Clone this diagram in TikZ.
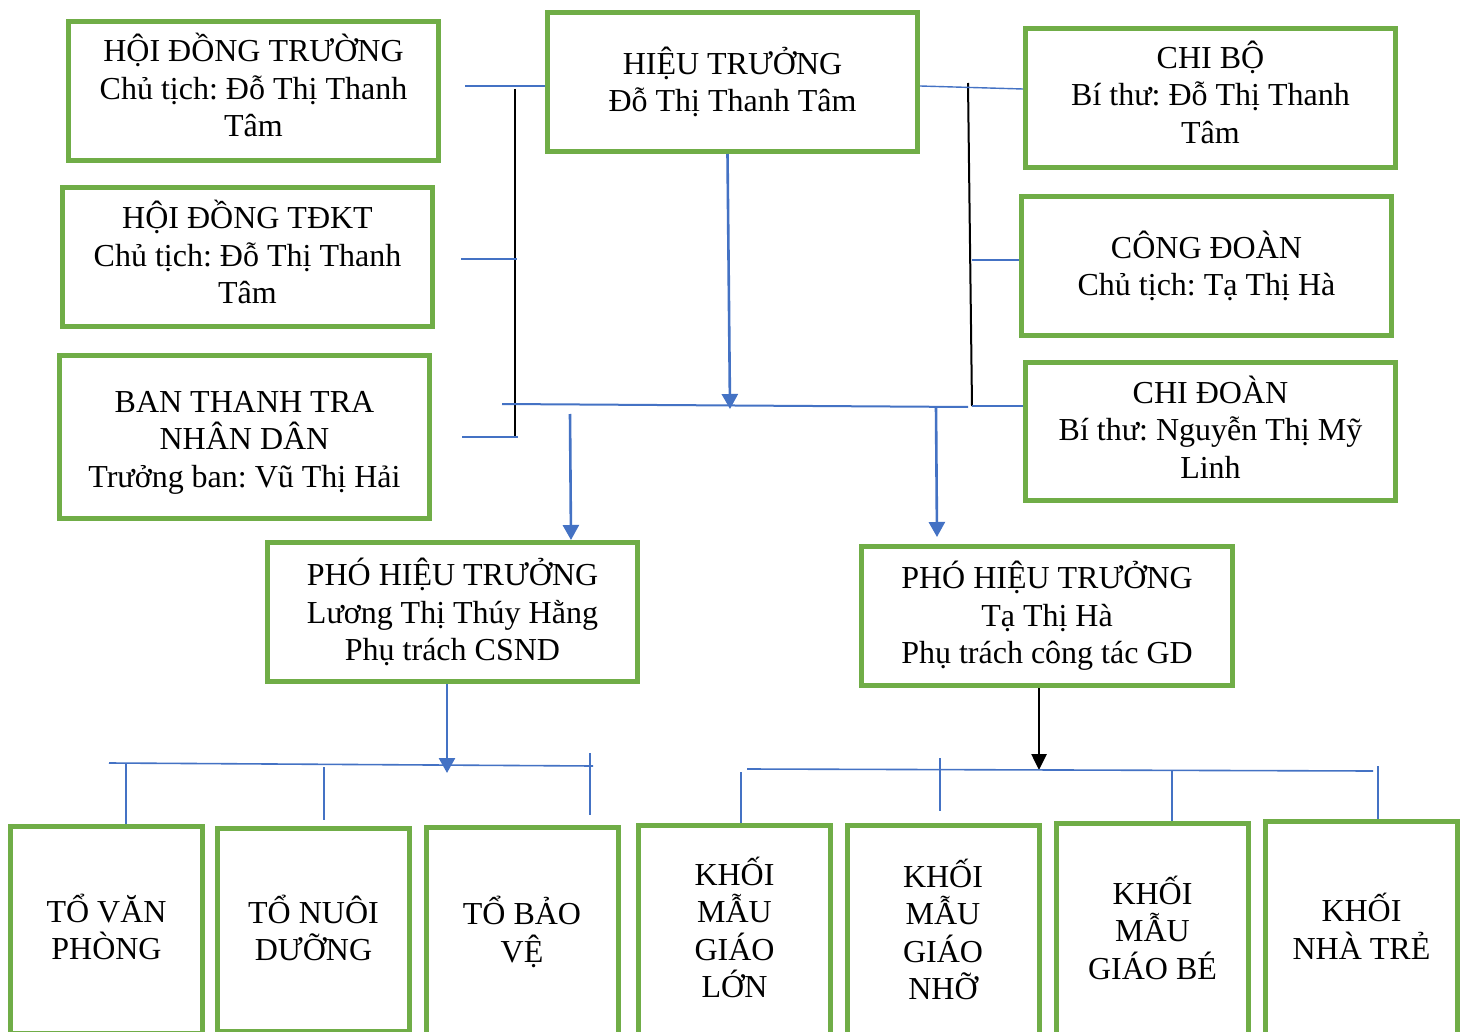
\documentclass[tikz,border=0pt]{standalone}
\usepackage{fontspec}
\setmainfont{Liberation Serif}
\usetikzlibrary{arrows.meta,calc}
\definecolor{boxgreen}{HTML}{70AD47}
\definecolor{linkblue}{HTML}{4472C4}
\frenchspacing
\newcommand{\lowerpad}[1]{\rule[-#1]{0pt}{0pt}}
\newcommand{\upperpad}[1]{\rule{0pt}{#1}}
\tikzset{
  orgbox/.style={draw=boxgreen, line width=5pt, inner sep=0pt, align=center,
    minimum width=370pt, minimum height=139pt,
    font=\fontsize{32}{37.5}\selectfont\frenchspacing},
  unitbox/.style={orgbox, minimum width=192pt, minimum height=207pt},
  thin/.style={draw=linkblue, line width=1.4pt},
  bus/.style={draw=linkblue, line width=2pt},
  blk/.style={draw=black, line width=2pt},
  barrow/.style={draw=linkblue, line width=2.6pt, -{Triangle[width=16pt,length=15pt]}},
  karrow/.style={draw=black, line width=2.6pt, -{Triangle[width=15pt,length=16pt]}}
}
\begin{document}
\begin{tikzpicture}[x=1pt,y=-1pt]
\useasboundingbox (0,0) rectangle (1467,1032);
\clip (0,0) rectangle (1467,1032);
\fill[white] (0,0) rectangle (1467,1032);

% top boxes
\node[orgbox] (HDT) at (253.5,91) {HỘI ĐỒNG TRƯỜNG\\Chủ tịch: Đỗ Thị Thanh\\Tâm\lowerpad{12pt}};
\node[orgbox] (HT) at (732.5,82) {HIỆU TRƯỞNG\\Đỗ Thị Thanh Tâm};
\node[orgbox] (CB) at (1210.5,98) {CHI BỘ\\Bí thư: Đỗ Thị Thanh\\Tâm\lowerpad{12pt}};
\node[orgbox] (TDKT) at (247.5,257) {HỘI ĐỒNG TĐKT\\Chủ tịch: Đỗ Thị Thanh\\Tâm\lowerpad{10pt}};
\node[orgbox] (CD) at (1206.5,266) {CÔNG ĐOÀN\\Chủ tịch: Tạ Thị Hà};
\node[orgbox, minimum height=163pt] (BTT) at (244.5,437) {\upperpad{32pt}BAN THANH TRA\\NHÂN DÂN\\Trưởng ban: Vũ Thị Hải};
\node[orgbox, minimum height=138pt] (CDo) at (1210.5,431.5) {CHI ĐOÀN\\Bí thư: Nguyễn Thị Mỹ\\Linh\lowerpad{9pt}};
\node[orgbox] (P1) at (452.5,612) {PHÓ HIỆU TRƯỞNG\\Lương Thị Thúy Hằng\\Phụ trách CSND};
\node[orgbox, minimum width=371pt] (P2) at (1047,616) {PHÓ HIỆU TRƯỞNG\\Tạ Thị Hà\\Phụ trách công tác GD};

% bottom boxes
\node[unitbox] (B1) at (106.5,930) {TỔ VĂN\\PHÒNG\lowerpad{6pt}};
\node[unitbox, minimum height=203pt] (B2) at (313.5,930) {TỔ NUÔI\\DƯỠNG\lowerpad{4pt}};
\node[unitbox, minimum height=209pt] (B3) at (522,932) {TỔ BẢO\\VỆ\lowerpad{4pt}};
\node[unitbox, minimum height=209pt] (B4) at (734.5,930) {KHỐI\\MẪU\\GIÁO\\LỚN\lowerpad{5pt}};
\node[unitbox, minimum height=213pt] (B5) at (943,932) {KHỐI\\MẪU\\GIÁO\\NHỠ\lowerpad{5pt}};
\node[unitbox, minimum height=213pt] (B6) at (1152.5,930) {KHỐI\\MẪU\\GIÁO BÉ\lowerpad{5pt}};
\node[unitbox, minimum height=215pt] (B7) at (1361.5,929) {KHỐI\\NHÀ TRẺ\lowerpad{5pt}};

% junction coordinates
\coordinate (lvT) at (515,89);
\coordinate (lvB) at (515,438);
\coordinate (s1) at (465,86);
\coordinate (s2a) at (461,259);
\coordinate (s2b) at (517,259);
\coordinate (s3a) at (462,437);
\coordinate (s3b) at (518,437);
\coordinate (busL) at (502,404);
\coordinate (busR) at (968,407);
\coordinate (rvT) at (968,83);
\coordinate (rvB) at (972,406);
\coordinate (r2) at (972,260);
\coordinate (htTip) at (730,409);
\coordinate (a1s) at (570,414);
\coordinate (a2s) at (936,407);
\coordinate (a2t) at (937,537);
\coordinate (p1Tip) at (447,773);
\coordinate (p2Tip) at (1039,770);
\coordinate (lbL) at (109,763);
\coordinate (lbR) at (593,766);
\coordinate (rbL) at (747,769);
\coordinate (rbR) at (1373,771);

% left group
\draw[blk] (lvT) -- (lvB);
\draw[thin] (s1) -- (s1 -| HT.west);
\draw[thin] (s2a) -- (s2b);
\draw[thin] (s3a) -- (s3b);

% right group
\draw[blk] (rvT) -- (rvB);
\draw[thin] (HT.east |- 0,86) -- (CB.west |- 0,89);
\draw[thin] (r2) -- (CD.west |- r2);
\draw[thin] (rvB) -- (CDo.west |- rvB);

% main bus and arrows
\draw[bus] (busL) -- (busR);
\draw[barrow] ([xshift=-5pt]HT.south) -- (htTip);
\draw[barrow] (a1s) -- (P1.north -| 571,0);
\draw[barrow] (a2s) -- (a2t);

% lower left
\draw[barrow] (P1.south -| 447,0) -- (p1Tip);
\draw[bus, line width=1.6pt] (lbL) -- (lbR);
\draw[thin] (126,763) -- (B1.north -| 126,0);
\draw[thin] (324,767) -- (324,820);
\draw[thin] (590,753) -- (590,815);

% lower right
\draw[karrow] (P2.south -| 1039,0) -- (p2Tip);
\draw[bus, line width=1.6pt] (rbL) -- (rbR);
\draw[thin] (741,772) -- (B4.north -| 741,0);
\draw[thin] (940,758) -- (940,811);
\draw[thin] (1172,770) -- (B6.north -| 1172,0);
\draw[thin] (1378,766) -- (B7.north -| 1378,0);
\end{tikzpicture}
\end{document}
